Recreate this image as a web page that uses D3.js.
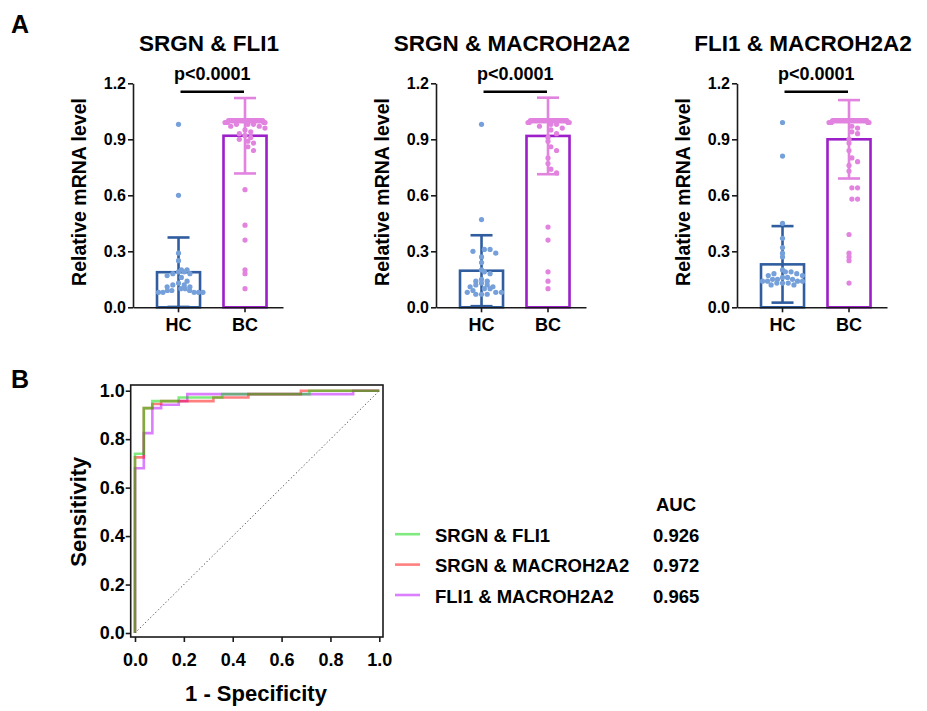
<!DOCTYPE html>
<html>
<head>
<meta charset="utf-8">
<script src="https://cdn.jsdelivr.net/npm/d3@7"></script>
<style>
  html, body { margin: 0; padding: 0; background: #fff; }
  svg { display: block; }
</style>
</head>
<body>
<script>
// ---------------- DATA ----------------
const panelTitles = ["SRGN & FLI1", "SRGN & MACROH2A2", "FLI1 & MACROH2A2"];
const groups = ["HC", "BC"];
const yTicks = [0, 0.3, 0.6, 0.9, 1.2];
const pValues = ["p<0.0001", "p<0.0001", "p<0.0001"];

// individual relative mRNA levels
const hc1 = [0.98, 0.60, 0.29, 0.25, 0.20, 0.20, 0.19, 0.19, 0.18, 0.18, 0.17, 0.16, 0.14, 0.13,
             0.12, 0.12, 0.11, 0.11, 0.10, 0.10, 0.09, 0.09, 0.09, 0.08, 0.08, 0.08, 0.08, 0.08];
const bc1 = [1, 1, 1, 1, 1, 1, 1, 1, 1, 1, 1, 1, 1, 1, 1, 1, 1, 1, 1, 1, 1, 1, 1, 1, 1, 1, 1, 1, 1, 1,
             0.99, 0.99, 0.99, 0.99, 0.99, 0.98, 0.98, 0.98, 0.97, 0.97, 0.96, 0.95, 0.94, 0.93,
             0.92, 0.91, 0.90, 0.89, 0.88, 0.86, 0.84, 0.63, 0.44, 0.36, 0.20, 0.18, 0.10];
const hc2 = [0.98, 0.47, 0.31, 0.31, 0.30, 0.29, 0.27, 0.24, 0.20, 0.19, 0.18, 0.15, 0.14, 0.14,
             0.13, 0.12, 0.12, 0.11, 0.11, 0.10, 0.10, 0.09, 0.08, 0.08, 0.08, 0.07, 0.07, 0.07];
const bc2 = [1, 1, 1, 1, 1, 1, 1, 1, 1, 1, 1, 1, 1, 1, 1, 1, 1, 1, 1, 1, 1, 1, 1, 1, 1, 1, 1, 1, 1, 1,
             0.99, 0.99, 0.99, 0.99, 0.98, 0.98, 0.97, 0.96, 0.95, 0.93, 0.91, 0.89, 0.86, 0.84,
             0.80, 0.77, 0.74, 0.72, 0.43, 0.36, 0.19, 0.14, 0.10];
const hc3 = [0.99, 0.81, 0.45, 0.37, 0.32, 0.29, 0.27, 0.20, 0.19, 0.19, 0.18, 0.18, 0.17, 0.17,
             0.16, 0.16, 0.15, 0.15, 0.15, 0.14, 0.14, 0.14, 0.14, 0.13, 0.13, 0.13, 0.12, 0.12];
const bc3 = [1, 1, 1, 1, 1, 1, 1, 1, 1, 1, 1, 1, 1, 1, 1, 1, 1, 1, 1, 1, 1, 1, 1, 1, 1, 1, 1, 1, 1, 1,
             0.99, 0.99, 0.99, 0.99, 0.99, 0.97, 0.96, 0.94, 0.93, 0.90, 0.88, 0.84, 0.80, 0.78,
             0.76, 0.73, 0.64, 0.64, 0.58, 0.58, 0.39, 0.29, 0.27, 0.25, 0.13];

// bar heights (mean) and error bars (SD) for [HC, BC]
const means1 = [0.188, 0.919];
const sds1   = [0.186, 0.202];
const means2 = [0.196, 0.918];
const sds2   = [0.190, 0.205];
const means3 = [0.230, 0.900];
const sds3   = [0.205, 0.210];

// ROC curves: [1 - specificity, sensitivity] step corners
const rocNames = ["SRGN & FLI1", "SRGN & MACROH2A2", "FLI1 & MACROH2A2"];
const rocAUC = ["0.926", "0.972", "0.965"];
const rocSrgnFli1 = [[0, 0], [0, 0.740], [0.036, 0.928], [0.071, 0.957], [0.179, 0.972],
                     [0.357, 0.986], [0.714, 1], [1, 1]];
const rocSrgnMacro = [[0, 0], [0, 0.725], [0.036, 0.928], [0.071, 0.945], [0.107, 0.957],
                      [0.321, 0.972], [0.464, 0.986], [0.679, 1], [1, 1]];
const rocFli1Macro = [[0, 0], [0, 0.680], [0.036, 0.825], [0.071, 0.928], [0.107, 0.942],
                      [0.179, 0.957], [0.214, 0.986], [0.893, 1], [1, 1]];
const rocTicks = [0, 0.2, 0.4, 0.6, 0.8, 1.0];

// ---------------- DRAWING ----------------
const W = 927, H = 711;
const FONT = "'Liberation Sans', Arial, Helvetica, sans-serif";
const AX = "#1a1a1a";
const svg = d3.select("body").append("svg")
  .attr("width", W).attr("height", H)
  .style("font-family", FONT);
svg.append("rect").attr("width", W).attr("height", H).attr("fill", "#fff");

const fmt1 = d3.format(".1f");

// Panel letters
svg.append("text").attr("x", 11).attr("y", 33).text("A")
  .attr("font-size", 25).attr("font-weight", "bold").attr("fill", "#000");
svg.append("text").attr("x", 11).attr("y", 388).text("B")
  .attr("font-size", 25).attr("font-weight", "bold").attr("fill", "#000");

const barPanels = [
  { title: panelTitles[0], p: pValues[0], vals: [hc1, bc1], mean: means1, sd: sds1 },
  { title: panelTitles[1], p: pValues[1], vals: [hc2, bc2], mean: means2, sd: sds2 },
  { title: panelTitles[2], p: pValues[2], vals: [hc3, bc3], mean: means3, sd: sds3 }
];
const panelAxisX = [133, 436, 737];
const titleOffset = [76, 76, 66];

const yBar = d3.scaleLinear().domain([0, 1.2]).range([307.3, 83.3]);

const dotColor = ["#76a0da", "#e283e0"];
const barColor = ["#2f5d9f", "#9c1fc9"];
const errColor = ["#2f5d9f", "#e283e0"];
const dotR = 2.6;

function swarm(values, cx, yS, r, maxHalf) {
  const d = 2 * r + 0.5;
  const pts = values.map(v => ({ v, py: yS(v) }));
  const bins = d3.groups(pts, p => Math.round(p.py / d));
  const out = [];
  bins.forEach(([k, arr]) => {
    const n = arr.length;
    const s = n > 1 ? Math.min(d, (2 * maxHalf) / (n - 1)) : 0;
    arr.forEach((p, i) => {
      const rank = i === 0 ? 0 : (i % 2 ? (i + 1) / 2 : -i / 2);
      const off = n % 2 === 1 ? rank * s : (rank + (rank >= 0 ? 0.5 : -0.5)) * s;
      out.push({ x: cx + (n === 1 ? 0 : off), y: p.py });
    });
  });
  return out;
}

barPanels.forEach((P, pi) => {
  const ax = panelAxisX[pi];
  const g = svg.append("g");
  const xB = d3.scaleBand().domain(groups).range([ax, ax + 150])
    .paddingInner(0.353).paddingOuter(0.3045).align(0.593);
  const bw = xB.bandwidth();
  const cx = k => xB(k) + bw / 2;

  // title
  g.append("text").attr("x", ax + titleOffset[pi]).attr("y", 51).attr("text-anchor", "middle")
    .attr("font-size", 22.5).attr("font-weight", "bold").attr("fill", "#000").text(P.title);

  // significance bracket
  g.append("line").attr("x1", cx("HC") + 2).attr("x2", cx("BC") - 1)
    .attr("y1", 91.7).attr("y2", 91.7).attr("stroke", "#000").attr("stroke-width", 2.4);
  g.append("text").attr("x", (cx("HC") + cx("BC")) / 2 + 0.5).attr("y", 80)
    .attr("text-anchor", "middle").attr("font-size", 18).attr("font-weight", "bold")
    .attr("fill", "#000").text(P.p);

  // bars
  groups.forEach((k, gi) => {
    g.append("rect").attr("x", xB(k)).attr("width", bw)
      .attr("y", yBar(P.mean[gi])).attr("height", yBar(0) - yBar(P.mean[gi]))
      .attr("fill", "none").attr("stroke", barColor[gi]).attr("stroke-width", 2.6);
  });
  // error bars
  groups.forEach((k, gi) => {
    const lo = Math.max(0, P.mean[gi] - P.sd[gi]);
    const hi = P.mean[gi] + P.sd[gi];
    const c = cx(k);
    const eg = g.append("g").attr("stroke", errColor[gi]).attr("stroke-width", 2.6);
    eg.append("line").attr("x1", c).attr("x2", c).attr("y1", yBar(lo)).attr("y2", yBar(hi));
    eg.append("line").attr("x1", c - 11).attr("x2", c + 11).attr("y1", yBar(hi)).attr("y2", yBar(hi));
    eg.append("line").attr("x1", c - 11).attr("x2", c + 11).attr("y1", yBar(lo)).attr("y2", yBar(lo));
  });
  // dots
  groups.forEach((k, gi) => {
    const pts = swarm(P.vals[gi], cx(k), yBar, dotR, 20);
    g.append("g").selectAll("circle").data(pts).join("circle")
      .attr("cx", d => d.x).attr("cy", d => d.y).attr("r", dotR)
      .attr("fill", dotColor[gi]);
  });

  // axes
  const yA = g.append("g").attr("transform", `translate(${ax},0)`)
    .call(d3.axisLeft(yBar).tickValues(yTicks).tickFormat(fmt1).tickSize(5).tickSizeOuter(0).tickPadding(2));
  const xA = g.append("g").attr("transform", `translate(0,${yBar(0)})`)
    .call(d3.axisBottom(xB).tickSize(5).tickSizeOuter(0).tickPadding(6));
  [yA, xA].forEach(a => {
    a.select(".domain").attr("stroke", AX).attr("stroke-width", 1.6);
    a.selectAll(".tick line").attr("stroke", AX).attr("stroke-width", 1.6);
    a.selectAll("text").attr("font-family", FONT).attr("font-weight", "bold").attr("fill", "#000");
  });
  yA.selectAll("text").attr("font-size", 16);
  xA.selectAll("text").attr("font-size", 18);

  // y label
  g.append("text").attr("transform", `translate(${ax - 47},${192}) rotate(-90)`)
    .attr("text-anchor", "middle").attr("font-size", 19.5).attr("font-weight", "bold")
    .attr("fill", "#000").text("Relative mRNA level");
});

// ---------------- ROC ----------------
const xR = d3.scaleLinear().domain([0, 1]).range([135, 379.3]);
const yR = d3.scaleLinear().domain([0, 1]).range([633, 390.7]);
const frame = { x0: 130.7, x1: 383, y0: 385, y1: 637 };
const rg = svg.append("g");

// diagonal reference
rg.append("line").attr("x1", xR(0)).attr("y1", yR(0)).attr("x2", xR(1)).attr("y2", yR(1))
  .attr("stroke", "#444").attr("stroke-width", 1).attr("stroke-dasharray", "1.2,2.4");

const rocSeries = [
  { name: rocNames[2], data: rocFli1Macro, color: "rgb(185,0,255)" },
  { name: rocNames[1], data: rocSrgnMacro, color: "rgb(255,0,0)" },
  { name: rocNames[0], data: rocSrgnFli1, color: "rgb(0,215,0)" }
];
const rocLine = d3.line().x(d => xR(d[0])).y(d => yR(d[1])).curve(d3.curveStepAfter);
rocSeries.forEach(s => {
  rg.append("path").attr("d", rocLine(s.data)).attr("fill", "none")
    .attr("stroke", s.color).attr("stroke-opacity", 0.5).attr("stroke-width", 2.6)
    .attr("stroke-linejoin", "miter");
});

// frame
rg.append("rect").attr("x", frame.x0).attr("y", frame.y0)
  .attr("width", frame.x1 - frame.x0).attr("height", frame.y1 - frame.y0)
  .attr("fill", "none").attr("stroke", AX).attr("stroke-width", 1.6);

const ryA = rg.append("g").attr("transform", `translate(${frame.x0},0)`)
  .call(d3.axisLeft(yR).tickValues(rocTicks).tickFormat(fmt1).tickSize(5).tickSizeOuter(0).tickPadding(1));
const rxA = rg.append("g").attr("transform", `translate(0,${frame.y1})`)
  .call(d3.axisBottom(xR).tickValues(rocTicks).tickFormat(fmt1).tickSize(5).tickSizeOuter(0).tickPadding(11));
[ryA, rxA].forEach(a => {
  a.select(".domain").remove();
  a.selectAll(".tick line").attr("stroke", AX).attr("stroke-width", 1.6);
  a.selectAll("text").attr("font-family", FONT).attr("font-weight", "bold")
    .attr("font-size", 18).attr("fill", "#000");
});

rg.append("text").attr("transform", `translate(86,511.7) rotate(-90)`)
  .attr("text-anchor", "middle").attr("font-size", 22).attr("font-weight", "bold")
  .attr("fill", "#000").text("Sensitivity");
rg.append("text").attr("x", 256).attr("y", 701)
  .attr("text-anchor", "middle").attr("font-size", 22).attr("font-weight", "bold")
  .attr("fill", "#000").text("1 - Specificity");

// legend
const lg = svg.append("g");
lg.append("text").attr("x", 656).attr("y", 510.5).attr("font-size", 18.5)
  .attr("font-weight", "bold").attr("fill", "#000").text("AUC");
const legendOrder = [rocSeries[2], rocSeries[1], rocSeries[0]];
legendOrder.forEach((s, i) => {
  const base = 541.7 + i * 30.4;
  lg.append("line").attr("x1", 395).attr("x2", 420).attr("y1", base - 7.5).attr("y2", base - 7.5)
    .attr("stroke", s.color).attr("stroke-opacity", 0.5).attr("stroke-width", 2.6);
  lg.append("text").attr("x", 435).attr("y", base).attr("font-size", 18.5)
    .attr("font-weight", "bold").attr("fill", "#000").text(s.name);
  lg.append("text").attr("x", 653).attr("y", base).attr("font-size", 18.5)
    .attr("font-weight", "bold").attr("fill", "#000").text(rocAUC[i]);
});
</script>
</body>
</html>
